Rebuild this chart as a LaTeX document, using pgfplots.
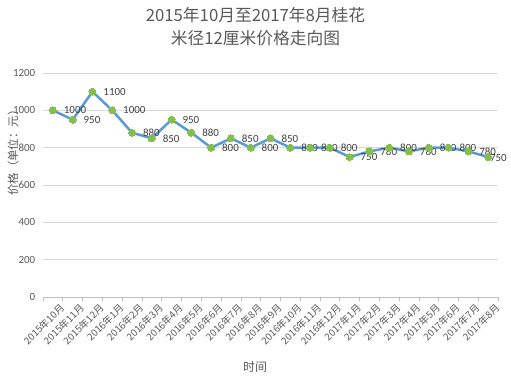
\documentclass[border=0pt]{standalone}
\usepackage{pgfplots}
\pgfplotsset{compat=1.18}
\usepackage{fontspec}
\setmainfont{Carlito}
\newfontfamily\cjk{Noto Sans CJK SC}
\definecolor{txtgray}{HTML}{595959}
\definecolor{lblgray}{HTML}{404040}
\definecolor{gridgray}{HTML}{D9D9D9}
\definecolor{axgray}{HTML}{BFBFBF}
\definecolor{lineblue}{HTML}{5B9BD5}
\definecolor{markgreen}{HTML}{84BF4E}
\begin{document}
\begin{tikzpicture}[x=1bp,y=1bp]
\useasboundingbox (0,0) rectangle (511,379);
\begin{axis}[
  at={(43bp,82bp)}, anchor=south west,
  scale only axis, width=455bp, height=224bp,
  xmin=-0.5, xmax=22.5, ymin=0, ymax=1200,
  ytick={0,200,...,1200},
  ymajorgrids, grid style={gridgray, line width=0.6pt},
  axis y line*=left, y axis line style={draw=none},
  axis x line*=bottom, x axis line style={axgray, line width=0.6pt},
  xtick={0,...,22}, major x tick style={draw=none},
  minor xtick={-0.5,0.5,...,22.5}, minor x tick style={axgray, line width=0.6pt},
  minor tick length=4bp, tick align=outside,
  major y tick style={draw=none},
  xticklabels={2015年10月,2015年11月,2015年12月,2016年1月,2016年2月,2016年3月,2016年4月,2016年5月,2016年6月,2016年7月,2016年8月,2016年9月,2016年10月,2016年11月,2016年12月,2017年1月,2017年2月,2017年3月,2017年4月,2017年5月,2017年6月,2017年7月,2017年8月},
  xticklabel style={rotate=45, anchor=east, font=\cjk\fontsize{9.8}{10}\selectfont, text=txtgray, inner sep=0.5bp, yshift=-10bp, xshift=4bp},
  yticklabel style={font=\fontsize{11}{12}\selectfont, text=txtgray},
  /pgf/number format/assume math mode=true,
  /pgf/number format/1000 sep={},
  xlabel={\cjk 时间},
  xlabel style={at={(axis description cs:0.466,-0.3125)}, anchor=center, font=\fontsize{12}{14}\selectfont, text=txtgray},
  ylabel={\cjk 价格\makebox[1em][r]{（}单位\makebox[1em]{：}元\makebox[1em][l]{）}},
  ylabel style={at={(axis description cs:-0.066,0.656)}, anchor=center, font=\fontsize{11.5}{13}\selectfont, text=txtgray},
  title={\cjk 2015年10月至2017年8月桂花\\\cjk 米径12厘米价格走向图},
  title style={at={(axis description cs:0.467,1.18)}, anchor=center, align=center, font=\fontsize{16.8}{23}\selectfont, text=txtgray},
  nodes near coords,
  visualization depends on={rawx \as \xval},
  every node near coord/.append style={anchor=west, xshift={\xval>21.5 ? 2bp : 11bp}, yshift={\xval>21.5 ? -1bp : 0bp}, font=\fontsize{11}{12}\selectfont, text=lblgray, inner sep=0bp},
]
\addplot[lineblue, line width=2.5bp, mark=*, mark size=3.5bp, mark options={draw=markgreen, fill=markgreen, line width=0pt}] coordinates {
(0,1000) (1,950) (2,1100) (3,1000) (4,880) (5,850) (6,950) (7,880) (8,800) (9,850) (10,800) (11,850) (12,800) (13,800) (14,800) (15,750) (16,780) (17,800) (18,780) (19,800) (20,800) (21,780) (22,750)
};
\end{axis}
\end{tikzpicture}
\end{document}
